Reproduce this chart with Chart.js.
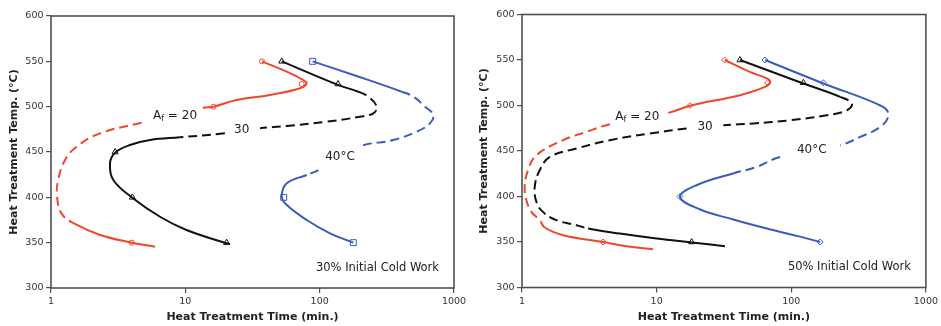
<!DOCTYPE html>
<html>
<head>
<meta charset="utf-8">
<script src="https://cdn.jsdelivr.net/npm/chart.js@4.4.1/dist/chart.umd.min.js"></script>
<style>
  html, body { margin: 0; padding: 0; background: #fff; }
  #wrap { position: relative; width: 941px; height: 326px; overflow: hidden; background: #fff; }
  .panel { position: absolute; top: 0; height: 326px; }
  canvas { display: block; }
</style>
</head>
<body>
<div id="wrap">
  <div class="panel" style="left:0;width:470px"><canvas id="cw30" width="470" height="326"></canvas></div>
  <div class="panel" style="left:470px;width:471px"><canvas id="cw50" width="471" height="326"></canvas></div>
</div>
<script>
// ---- axis ticks ----
const TIME_TICKS = [1, 10, 100, 1000];
const TEMP_TICKS = [300, 350, 400, 450, 500, 550, 600];

// ---- 30% initial cold work: transformation curves (time in min, temp in °C) ----
// style string: one char per segment between consecutive points (S solid, D dashed, G gap)
const cw30_af20_time = [37.2, 56.9, 75.5, 80, 71.4, 42.6, 24.1, 16.2, 13.5, 4.73, 2.32, 1.55, 1.27, 1.13, 1.11, 1.2, 1.51, 2.32, 3.99, 5.95];
const cw30_af20_temp = [550, 538.6, 529.4, 525.8, 520.3, 512.9, 507.3, 500, 498.5, 482.3, 470.6, 455.8, 441, 419, 400.7, 382, 370.6, 358.5, 350, 345.5];
const cw30_af20_style = "SSSSSSSSGDDDDDDDSSS";

const cw30_af30_time = [52.2, 137, 194, 230, 266, 251, 199, 112, 56.9, 36, 19.7, 9.1, 5.46, 3.87, 3.0, 2.75, 2.91, 4.03, 6.48, 10.2, 20.3, 21.5];
const cw30_af30_temp = [550, 524, 516.5, 511, 500, 492.7, 488.9, 483.4, 478.7, 476.1, 470.6, 466.2, 463.2, 457.7, 449.2, 437.5, 419.1, 399.6, 378.6, 364, 349.3, 348.5];
const cw30_af30_style = "SSDDDDDDDGDSSSSSSSSSS";

const cw30_af40_time = [88.7, 193, 408, 499, 609, 702, 662, 528, 353, 193, 97.7, 80.1, 56.9, 52.2, 56.9, 80.1, 119.4, 178];
const cw30_af40_temp = [550, 533.3, 516.5, 511, 500, 490.8, 481.6, 472.4, 463.2, 455.5, 430.1, 424.6, 415.5, 400.7, 391.5, 375, 360.3, 350];
const cw30_af40_style = "SSDDDDDDDGDSSSSSS";

// measured points
const cw30_af20_pts_time = [37.2, 73.5, 16.2, 3.99];
const cw30_af20_pts_temp = [550, 525, 500, 350];
const cw30_af30_pts_time = [52.2, 137, 3.0, 4.03, 20.3];
const cw30_af30_pts_temp = [550, 525, 450, 400, 350];
const cw30_af40_pts_time = [88.7, 54, 178];
const cw30_af40_pts_temp = [550, 400, 350];

// ---- 50% initial cold work ----
const cw50_af20_time = [32, 49.2, 65.8, 69.6, 63.8, 41.6, 17.7, 12.2, 4.49, 3.01, 2.02, 1.28, 1.108, 1.047, 1.078, 1.175, 1.354, 1.475, 2.02, 4.0, 5.98, 9.42];
const cw50_af20_temp = [550, 536.9, 529.7, 525.9, 520.4, 511.3, 499.8, 491.9, 479.5, 471, 461.9, 445.4, 428.9, 410.5, 396, 383.1, 374, 365.9, 357.5, 350, 345.4, 342.1];
const cw50_af20_style = "SSSSSSSGDDDDDDDDDSSSS";

const cw50_af30_time = [41.6, 123, 230.7, 282, 259, 184, 98, 52.3, 31.3, 16.7, 8.91, 4.49, 2.54, 1.61, 1.354, 1.243, 1.28, 1.43, 1.80, 2.54, 3.1, 5.33, 10, 18.2, 32.2];
const cw50_af30_temp = [550, 524.2, 509.5, 502.2, 494.8, 489.3, 483.8, 480.2, 478.4, 474.7, 469.2, 461.9, 452.7, 443.5, 428.9, 410.5, 394.1, 383.1, 374, 368.5, 364.8, 359.3, 353.8, 349.5, 345.4];
const cw50_af30_style = "SSDDDDDDGDDDDDDDDDDDSSSS";

const cw50_af40_time = [63.8, 173, 471, 527, 458, 325, 231, 82.6, 55.4, 36.9, 19.8, 14.9, 20.9, 37.1, 65.8, 118.4, 163.8];
const cw50_af40_temp = [550, 524.2, 499.2, 489.3, 476.5, 465.5, 456.4, 443.5, 432.5, 425.3, 412.4, 399.6, 386, 374.7, 364.8, 355.6, 350];
const cw50_af40_style = "SSDDDDGDDSSSSSSS";

const cw50_af20_pts_time = [32, 66.9, 17.7, 4.0];
const cw50_af20_pts_temp = [550, 525, 500, 350];
const cw50_af30_pts_time = [41.6, 123, 18.2];
const cw50_af30_pts_temp = [550, 525, 350];
const cw50_af40_pts_time = [63.8, 173, 14.9, 163.8];
const cw50_af40_pts_temp = [550, 525, 400, 350];

// ---- look ----
const FONT = "'DejaVu Sans', Verdana, sans-serif";
const RED = '#f0472c';
const BLACK = '#111111';
const BLUE = '#3b5cbf';
const DASH = [9, 5];

function pairs(xs, ys) { return xs.map((v, i) => ({ x: v, y: ys[i] })); }

function curve(time, temp, style, color) {
  return {
    data: pairs(time, temp),
    showLine: true,
    borderColor: color,
    borderWidth: 2,
    pointRadius: 0,
    tension: 0.4,
    fill: false,
    order: 2,
    segment: {
      borderDash: ctx => style[ctx.p0DataIndex] === 'D' ? DASH : undefined,
      borderColor: ctx => style[ctx.p0DataIndex] === 'G' ? 'rgba(0,0,0,0)' : undefined
    }
  };
}

function marks(time, temp, color, shape, r) {
  return {
    data: pairs(time, temp),
    showLine: false,
    pointStyle: shape,
    pointRadius: r,
    borderColor: color,
    pointBorderColor: color,
    pointBackgroundColor: 'rgba(255,255,255,0)',
    pointBorderWidth: 1,
    order: 1
  };
}

// plot frame (full box around the plotting area)
const framePlugin = {
  id: 'frame',
  beforeDatasetsDraw(chart) {
    const { ctx, chartArea: a } = chart;
    ctx.save();
    ctx.strokeStyle = '#505050';
    ctx.lineWidth = 1.6;
    ctx.strokeRect(a.left, a.top, a.right - a.left, a.bottom - a.top);
    ctx.restore();
  }
};

// in-plot labels
const notesPlugin = {
  id: 'notes',
  afterDatasetsDraw(chart, args, opts) {
    const { ctx, chartArea: a, scales } = chart;
    ctx.save();
    ctx.fillStyle = '#222';
    ctx.textBaseline = 'middle';
    ctx.textAlign = 'left';
    (opts.items || []).forEach(item => {
      const cx = scales.x.getPixelForValue(item.t);
      const cy = scales.y.getPixelForValue(item.T);
      let w = 0;
      item.runs.forEach(r => {
        ctx.font = `${r.size}px ${FONT}`;
        r.w = ctx.measureText(r.text).width;
        w += r.w;
      });
      let x = cx - w / 2;
      item.runs.forEach(r => {
        ctx.font = `${r.size}px ${FONT}`;
        ctx.fillText(r.text, x, cy + (r.dy || 0));
        x += r.w;
      });
    });
    if (opts.corner) {
      ctx.font = `11.5px ${FONT}`;
      ctx.textAlign = 'right';
      ctx.fillText(opts.corner, a.right - 15, a.bottom - 20);
    }
    ctx.restore();
  }
};

function afLabel(t, T) {
  return { t, T, runs: [
    { text: 'A', size: 12 },
    { text: 'f', size: 8, dy: 3 },
    { text: ' = 20', size: 12 }
  ] };
}
function plainLabel(text, t, T) {
  return { t, T, runs: [{ text, size: 12 }] };
}

function makePanel(id, box, datasets, notes, corner) {
  return new Chart(document.getElementById(id), {
    type: 'scatter',
    data: { datasets },
    plugins: [framePlugin, notesPlugin],
    options: {
      responsive: false,
      animation: false,
      devicePixelRatio: 1,
      layout: { padding: { left: 0, top: box.top, right: box.width - box.right, bottom: 0 } },
      plugins: {
        legend: { display: false },
        tooltip: { enabled: false },
        notes: { items: notes, corner }
      },
      scales: {
        x: {
          type: 'logarithmic',
          min: 1, max: 1000,
          afterBuildTicks: s => { s.ticks = TIME_TICKS.map(v => ({ value: v })); },
          afterFit: s => { s.height = box.height - box.bottom; },
          ticks: {
            callback: v => String(v),
            font: { family: FONT, size: 9.5 },
            color: '#333',
            padding: 3,
            maxRotation: 0,
            autoSkip: false
          },
          grid: { drawOnChartArea: false, drawTicks: true, tickLength: 5, color: '#505050', lineWidth: 1.2 },
          border: { display: false },
          title: {
            display: true,
            text: 'Heat Treatment Time (min.)',
            font: { family: FONT, size: 11, weight: 'bold' },
            color: '#222',
            padding: { top: 0, bottom: 2 }
          }
        },
        y: {
          min: 300, max: 600,
          afterBuildTicks: s => { s.ticks = TEMP_TICKS.map(v => ({ value: v })); },
          afterFit: s => { s.width = box.left; },
          ticks: {
            font: { family: FONT, size: 9.5 },
            color: '#333',
            padding: 2.5
          },
          grid: { drawOnChartArea: false, drawTicks: true, tickLength: 5, color: '#505050', lineWidth: 1.2 },
          border: { display: false },
          title: {
            display: true,
            text: 'Heat Treatment Temp. (°C)',
            font: { family: FONT, size: 11, weight: 'bold' },
            color: '#222',
            padding: { top: 8, bottom: 0 }
          }
        }
      }
    }
  });
}

makePanel('cw30',
  { left: 51, right: 454, top: 16, bottom: 288, width: 470, height: 326 },
  [
    marks(cw30_af20_pts_time, cw30_af20_pts_temp, RED, 'circle', 2.5),
    marks(cw30_af30_pts_time, cw30_af30_pts_temp, BLACK, 'triangle', 3.5),
    marks(cw30_af40_pts_time, cw30_af40_pts_temp, BLUE, 'rect', 4.2),
    curve(cw30_af20_time, cw30_af20_temp, cw30_af20_style, RED),
    curve(cw30_af30_time, cw30_af30_temp, cw30_af30_style, BLACK),
    curve(cw30_af40_time, cw30_af40_temp, cw30_af40_style, BLUE)
  ],
  [afLabel(8.38, 489.7), plainLabel('30', 26.3, 474.3), plainLabel('40°C', 141.6, 444.8)],
  '30% Initial Cold Work'
);

makePanel('cw50',
  { left: 52, right: 456, top: 14.5, bottom: 287.5, width: 471, height: 326 },
  [
    marks(cw50_af20_pts_time, cw50_af20_pts_temp, RED, 'rectRot', 3),
    marks(cw50_af30_pts_time, cw50_af30_pts_temp, BLACK, 'triangle', 3.5),
    marks(cw50_af40_pts_time, cw50_af40_pts_temp, BLUE, 'rectRot', 3),
    curve(cw50_af20_time, cw50_af20_temp, cw50_af20_style, RED),
    curve(cw50_af30_time, cw50_af30_temp, cw50_af30_style, BLACK),
    curve(cw50_af40_time, cw50_af40_temp, cw50_af40_style, BLUE)
  ],
  [afLabel(7.19, 487.5), plainLabel('30', 22.9, 476.7), plainLabel('40°C', 142, 450.9)],
  '50% Initial Cold Work'
);
</script>
</body>
</html>
